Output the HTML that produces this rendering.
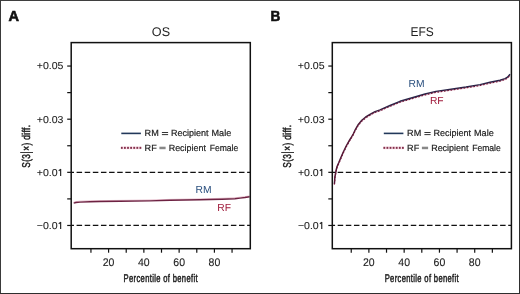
<!DOCTYPE html>
<html><head><meta charset="utf-8"><style>
html,body{margin:0;padding:0;background:#fff;}
body{width:520px;height:294px;overflow:hidden;}
svg{display:block;will-change:transform;text-rendering:geometricPrecision;font-family:"Liberation Sans",sans-serif;}
</style></head><body>
<svg width="520" height="294" viewBox="0 0 520 294">
<rect x="0" y="0" width="520" height="294" fill="#fff"/>
<text x="0" y="0" font-weight="bold" font-size="14.6" fill="#111" stroke="#111" stroke-width="0.6" transform="translate(8.40,20.6) scale(1.0,1)">A</text>
<text x="0" y="0" font-size="12.6" text-anchor="middle" fill="#222" transform="translate(160.95,36.1) scale(1.0,1)">OS</text>
<line x1="71.20" y1="172.33" x2="250.30" y2="172.33" stroke="#111" stroke-width="1.2" stroke-dasharray="5.5 2.62" stroke-dashoffset="2.72"/>
<line x1="71.20" y1="225.47" x2="250.30" y2="225.47" stroke="#111" stroke-width="1.2" stroke-dasharray="5.5 2.62" stroke-dashoffset="2.72"/>
<line x1="67.20" y1="66.05" x2="71.20" y2="66.05" stroke="#111" stroke-width="1.2"/>
<line x1="67.20" y1="92.62" x2="71.20" y2="92.62" stroke="#111" stroke-width="1.2"/>
<line x1="67.20" y1="119.19" x2="71.20" y2="119.19" stroke="#111" stroke-width="1.2"/>
<line x1="67.20" y1="145.76" x2="71.20" y2="145.76" stroke="#111" stroke-width="1.2"/>
<line x1="67.20" y1="172.33" x2="71.20" y2="172.33" stroke="#111" stroke-width="1.2"/>
<line x1="67.20" y1="198.90" x2="71.20" y2="198.90" stroke="#111" stroke-width="1.2"/>
<line x1="67.20" y1="225.47" x2="71.20" y2="225.47" stroke="#111" stroke-width="1.2"/>
<text x="0" y="0" font-size="11.0" text-anchor="end" fill="#222" stroke="#222" stroke-width="0.1" transform="translate(63.50,69.00) scale(0.96,0.92)">+0.05</text>
<text x="0" y="0" font-size="11.0" text-anchor="end" fill="#222" stroke="#222" stroke-width="0.1" transform="translate(63.50,123.00) scale(0.96,0.92)">+0.03</text>
<text x="0" y="0" font-size="11.0" text-anchor="end" fill="#222" stroke="#222" stroke-width="0.1" transform="translate(57.63,176.00) scale(0.96,0.92)">+0.0</text>
<path d="M60.65,169.00 L60.65,176.00 M60.85,169.10 L58.75,170.70" stroke="#222" stroke-width="1.15" fill="none"/>
<text x="0" y="0" font-size="11.0" text-anchor="end" fill="#222" stroke="#222" stroke-width="0.1" transform="translate(57.63,229.00) scale(0.96,0.92)">−0.0</text>
<path d="M60.65,222.00 L60.65,229.00 M60.85,222.10 L58.75,223.70" stroke="#222" stroke-width="1.15" fill="none"/>
<line x1="90.94" y1="248.70" x2="90.94" y2="252.70" stroke="#111" stroke-width="1.2"/>
<line x1="108.58" y1="248.70" x2="108.58" y2="252.70" stroke="#111" stroke-width="1.2"/>
<line x1="126.22" y1="248.70" x2="126.22" y2="252.70" stroke="#111" stroke-width="1.2"/>
<line x1="143.86" y1="248.70" x2="143.86" y2="252.70" stroke="#111" stroke-width="1.2"/>
<line x1="161.50" y1="248.70" x2="161.50" y2="252.70" stroke="#111" stroke-width="1.2"/>
<line x1="179.14" y1="248.70" x2="179.14" y2="252.70" stroke="#111" stroke-width="1.2"/>
<line x1="196.78" y1="248.70" x2="196.78" y2="252.70" stroke="#111" stroke-width="1.2"/>
<line x1="214.42" y1="248.70" x2="214.42" y2="252.70" stroke="#111" stroke-width="1.2"/>
<line x1="232.06" y1="248.70" x2="232.06" y2="252.70" stroke="#111" stroke-width="1.2"/>
<text x="0" y="0" font-size="11.0" text-anchor="middle" fill="#222" stroke="#222" stroke-width="0.1" transform="translate(108.58,265.70) scale(0.955,1)">20</text>
<text x="0" y="0" font-size="11.0" text-anchor="middle" fill="#222" stroke="#222" stroke-width="0.1" transform="translate(143.86,265.70) scale(0.955,1)">40</text>
<text x="0" y="0" font-size="11.0" text-anchor="middle" fill="#222" stroke="#222" stroke-width="0.1" transform="translate(179.14,265.70) scale(0.955,1)">60</text>
<text x="0" y="0" font-size="11.0" text-anchor="middle" fill="#222" stroke="#222" stroke-width="0.1" transform="translate(214.42,265.70) scale(0.955,1)">80</text>
<text x="0" y="0" font-size="11.2" text-anchor="middle" fill="#222" stroke="#222" stroke-width="0.5" letter-spacing="0.5" transform="translate(160.75,282.30) scale(0.68,1)">Percentile of benefit</text>
<text x="0" y="0" font-size="11.3" text-anchor="middle" fill="#222" stroke="#222" stroke-width="0.5" letter-spacing="0.55" transform="translate(29.80,146.20) rotate(-90) scale(0.73,1)">S(3<tspan font-size="13">|</tspan>×) diff.</text>
<line x1="121.30" y1="133.4" x2="140.90" y2="133.4" stroke="#22385a" stroke-width="1.6"/>
<rect x="121.00" y="146.5" width="20.2" height="2.8" fill="#f8e0e8"/>
<rect x="120.90" y="146.85" width="1.8" height="2" fill="#84304c"/>
<rect x="124.00" y="146.85" width="1.8" height="2" fill="#84304c"/>
<rect x="127.10" y="146.85" width="1.8" height="2" fill="#84304c"/>
<rect x="130.20" y="146.85" width="1.8" height="2" fill="#84304c"/>
<rect x="133.30" y="146.85" width="1.8" height="2" fill="#84304c"/>
<rect x="136.40" y="146.85" width="1.8" height="2" fill="#84304c"/>
<rect x="139.50" y="146.85" width="1.8" height="2" fill="#84304c"/>
<text x="144.60" y="136.2" font-size="9.1" fill="#222" stroke="#222" stroke-width="0.2">RM</text>
<rect x="161.90" y="132" width="6.2" height="1" fill="#333"/>
<rect x="161.90" y="134.1" width="6.2" height="1" fill="#333"/>
<text x="170.90" y="136.2" font-size="9.1" fill="#222" stroke="#222" stroke-width="0.2" textLength="37.6" lengthAdjust="spacingAndGlyphs">Recipient</text>
<text x="211.50" y="136.2" font-size="9.1" fill="#222" stroke="#222" stroke-width="0.2">Male</text>
<text x="144.60" y="150.6" font-size="9.1" fill="#222" stroke="#222" stroke-width="0.2">RF</text>
<rect x="159.40" y="146.7" width="6.2" height="2.5" fill="#888"/>
<text x="168.70" y="150.6" font-size="9.1" fill="#222" stroke="#222" stroke-width="0.2" textLength="37.3" lengthAdjust="spacingAndGlyphs">Recipient</text>
<text x="209.70" y="150.6" font-size="9.1" fill="#222" stroke="#222" stroke-width="0.2" textLength="28.6" lengthAdjust="spacingAndGlyphs">Female</text>
<path d="M73.70,202.20 L76.00,201.60 L80.00,201.20 L90.00,200.80 L100.00,200.60 L120.00,200.40 L150.00,200.00 L170.00,199.40 L200.00,198.90 L222.00,198.30 L235.00,197.80 L240.00,197.20 L245.00,196.60 L249.60,195.90" fill="none" stroke="#e2b3c4" stroke-width="0.9" stroke-linejoin="round"/>
<path d="M73.70,203.10 L76.00,202.50 L80.00,202.10 L90.00,201.70 L100.00,201.50 L120.00,201.30 L150.00,200.90 L170.00,200.30 L200.00,199.80 L222.00,199.20 L235.00,198.70 L240.00,198.10 L245.00,197.50 L249.60,196.80" fill="none" stroke="#6d2242" stroke-width="1.45" stroke-linejoin="round"/>
<text x="195.60" y="193.00" font-size="10.3" fill="#2a4f7e">RM</text>
<text x="217.30" y="211.00" font-size="10.3" fill="#a01c3c">RF</text>
<rect x="71.20" y="42.60" width="179.10" height="206.10" fill="none" stroke="#111" stroke-width="1.5"/>
<text x="0" y="0" font-weight="bold" font-size="14.6" fill="#111" stroke="#111" stroke-width="0.6" transform="translate(270.40,20.6) scale(0.93,1)">B</text>
<text x="0" y="0" font-size="12.6" text-anchor="middle" fill="#222" transform="translate(422.15,36.1) scale(0.95,1)">EFS</text>
<line x1="332.30" y1="172.33" x2="511.40" y2="172.33" stroke="#111" stroke-width="1.2" stroke-dasharray="5.5 2.62" stroke-dashoffset="2.72"/>
<line x1="332.30" y1="225.47" x2="511.40" y2="225.47" stroke="#111" stroke-width="1.2" stroke-dasharray="5.5 2.62" stroke-dashoffset="2.72"/>
<line x1="328.30" y1="66.05" x2="332.30" y2="66.05" stroke="#111" stroke-width="1.2"/>
<line x1="328.30" y1="92.62" x2="332.30" y2="92.62" stroke="#111" stroke-width="1.2"/>
<line x1="328.30" y1="119.19" x2="332.30" y2="119.19" stroke="#111" stroke-width="1.2"/>
<line x1="328.30" y1="145.76" x2="332.30" y2="145.76" stroke="#111" stroke-width="1.2"/>
<line x1="328.30" y1="172.33" x2="332.30" y2="172.33" stroke="#111" stroke-width="1.2"/>
<line x1="328.30" y1="198.90" x2="332.30" y2="198.90" stroke="#111" stroke-width="1.2"/>
<line x1="328.30" y1="225.47" x2="332.30" y2="225.47" stroke="#111" stroke-width="1.2"/>
<text x="0" y="0" font-size="11.0" text-anchor="end" fill="#222" stroke="#222" stroke-width="0.1" transform="translate(324.60,69.00) scale(0.96,0.92)">+0.05</text>
<text x="0" y="0" font-size="11.0" text-anchor="end" fill="#222" stroke="#222" stroke-width="0.1" transform="translate(324.60,123.00) scale(0.96,0.92)">+0.03</text>
<text x="0" y="0" font-size="11.0" text-anchor="end" fill="#222" stroke="#222" stroke-width="0.1" transform="translate(318.73,176.00) scale(0.96,0.92)">+0.0</text>
<path d="M321.75,169.00 L321.75,176.00 M321.95,169.10 L319.85,170.70" stroke="#222" stroke-width="1.15" fill="none"/>
<text x="0" y="0" font-size="11.0" text-anchor="end" fill="#222" stroke="#222" stroke-width="0.1" transform="translate(318.73,229.00) scale(0.96,0.92)">−0.0</text>
<path d="M321.75,222.00 L321.75,229.00 M321.95,222.10 L319.85,223.70" stroke="#222" stroke-width="1.15" fill="none"/>
<line x1="351.24" y1="248.70" x2="351.24" y2="252.70" stroke="#111" stroke-width="1.2"/>
<line x1="368.88" y1="248.70" x2="368.88" y2="252.70" stroke="#111" stroke-width="1.2"/>
<line x1="386.52" y1="248.70" x2="386.52" y2="252.70" stroke="#111" stroke-width="1.2"/>
<line x1="404.16" y1="248.70" x2="404.16" y2="252.70" stroke="#111" stroke-width="1.2"/>
<line x1="421.80" y1="248.70" x2="421.80" y2="252.70" stroke="#111" stroke-width="1.2"/>
<line x1="439.44" y1="248.70" x2="439.44" y2="252.70" stroke="#111" stroke-width="1.2"/>
<line x1="457.08" y1="248.70" x2="457.08" y2="252.70" stroke="#111" stroke-width="1.2"/>
<line x1="474.72" y1="248.70" x2="474.72" y2="252.70" stroke="#111" stroke-width="1.2"/>
<line x1="492.36" y1="248.70" x2="492.36" y2="252.70" stroke="#111" stroke-width="1.2"/>
<text x="0" y="0" font-size="11.0" text-anchor="middle" fill="#222" stroke="#222" stroke-width="0.1" transform="translate(368.88,265.70) scale(0.955,1)">20</text>
<text x="0" y="0" font-size="11.0" text-anchor="middle" fill="#222" stroke="#222" stroke-width="0.1" transform="translate(404.16,265.70) scale(0.955,1)">40</text>
<text x="0" y="0" font-size="11.0" text-anchor="middle" fill="#222" stroke="#222" stroke-width="0.1" transform="translate(439.44,265.70) scale(0.955,1)">60</text>
<text x="0" y="0" font-size="11.0" text-anchor="middle" fill="#222" stroke="#222" stroke-width="0.1" transform="translate(474.72,265.70) scale(0.955,1)">80</text>
<text x="0" y="0" font-size="11.2" text-anchor="middle" fill="#222" stroke="#222" stroke-width="0.5" letter-spacing="0.5" transform="translate(421.85,282.30) scale(0.68,1)">Percentile of benefit</text>
<text x="0" y="0" font-size="11.3" text-anchor="middle" fill="#222" stroke="#222" stroke-width="0.5" letter-spacing="0.55" transform="translate(290.90,146.20) rotate(-90) scale(0.73,1)">S(3<tspan font-size="13">|</tspan>×) diff.</text>
<line x1="383.80" y1="133.4" x2="403.40" y2="133.4" stroke="#22385a" stroke-width="1.6"/>
<rect x="383.50" y="146.5" width="20.2" height="2.8" fill="#f8e0e8"/>
<rect x="383.40" y="146.85" width="1.8" height="2" fill="#84304c"/>
<rect x="386.50" y="146.85" width="1.8" height="2" fill="#84304c"/>
<rect x="389.60" y="146.85" width="1.8" height="2" fill="#84304c"/>
<rect x="392.70" y="146.85" width="1.8" height="2" fill="#84304c"/>
<rect x="395.80" y="146.85" width="1.8" height="2" fill="#84304c"/>
<rect x="398.90" y="146.85" width="1.8" height="2" fill="#84304c"/>
<rect x="402.00" y="146.85" width="1.8" height="2" fill="#84304c"/>
<text x="407.10" y="136.2" font-size="9.1" fill="#222" stroke="#222" stroke-width="0.2">RM</text>
<rect x="424.40" y="132" width="6.2" height="1" fill="#333"/>
<rect x="424.40" y="134.1" width="6.2" height="1" fill="#333"/>
<text x="433.40" y="136.2" font-size="9.1" fill="#222" stroke="#222" stroke-width="0.2" textLength="37.6" lengthAdjust="spacingAndGlyphs">Recipient</text>
<text x="474.00" y="136.2" font-size="9.1" fill="#222" stroke="#222" stroke-width="0.2">Male</text>
<text x="407.10" y="150.6" font-size="9.1" fill="#222" stroke="#222" stroke-width="0.2">RF</text>
<rect x="421.90" y="146.7" width="6.2" height="2.5" fill="#888"/>
<text x="431.20" y="150.6" font-size="9.1" fill="#222" stroke="#222" stroke-width="0.2" textLength="37.3" lengthAdjust="spacingAndGlyphs">Recipient</text>
<text x="472.20" y="150.6" font-size="9.1" fill="#222" stroke="#222" stroke-width="0.2" textLength="28.6" lengthAdjust="spacingAndGlyphs">Female</text>
<path d="M334.40,184.70 L334.90,178.00 L335.80,173.00 L336.30,170.50 L336.90,168.00 L337.80,165.80 L338.70,163.80 L341.00,158.30 L343.30,153.00 L346.20,147.00 L349.50,141.20 L350.90,139.00 L353.50,134.50 L355.20,130.80 L358.30,125.40 L361.80,121.30 L365.40,118.20 L369.50,115.60 L375.00,112.60 L380.00,110.90 L385.00,108.60 L390.00,106.50 L400.00,102.30 L413.00,98.50 L425.00,95.00 L436.00,92.40 L451.00,90.20 L466.00,88.00 L480.00,85.60 L490.00,83.30 L500.00,81.20 L505.00,79.60 L507.50,78.20 L509.00,76.60 L509.90,75.10" fill="none" stroke="#f3d0dc" stroke-width="1.3"/>
<linearGradient id="gB" gradientUnits="userSpaceOnUse" x1="352" y1="0" x2="392" y2="0"><stop offset="0" stop-color="#4a1a36"/><stop offset="1" stop-color="#28264a"/></linearGradient>
<path d="M334.40,183.70 L334.90,177.00 L335.80,172.00 L336.30,169.50 L336.90,167.00 L337.80,164.80 L338.70,162.80 L341.00,157.30 L343.30,152.00 L346.20,146.00 L349.50,140.20 L350.90,138.00 L353.50,133.50 L355.20,129.80 L358.30,124.40 L361.80,120.30 L365.40,117.20 L369.50,114.60 L375.00,111.60 L380.00,109.90 L385.00,107.60 L390.00,105.50 L400.00,101.30 L413.00,97.50 L425.00,94.00 L436.00,91.40 L451.00,89.20 L466.00,87.00 L480.00,84.60 L490.00,82.30 L500.00,80.20 L505.00,78.60 L507.50,77.20 L509.00,75.60 L509.90,74.10" fill="none" stroke="url(#gB)" stroke-width="1.45" stroke-linejoin="round"/>
<path d="M334.40,184.55 L334.90,177.85 L335.80,172.85 L336.30,170.35 L336.90,167.85 L337.80,165.65 L338.70,163.65 L341.00,158.15 L343.30,152.85 L346.20,146.85 L349.50,141.05 L350.90,138.85 L353.50,134.35 L355.20,130.65 L358.30,125.25 L361.80,121.15 L365.40,118.05 L369.50,115.45 L375.00,112.45 L380.00,110.75 L385.00,108.45 L390.00,106.35 L400.00,102.15 L413.00,98.35 L425.00,94.85 L436.00,92.25 L451.00,90.05 L466.00,87.85 L480.00,85.45 L490.00,83.15 L500.00,81.05 L505.00,79.45 L507.50,78.05 L509.00,76.45 L509.90,74.95" fill="none" stroke="#6e1838" stroke-width="1.2" stroke-dasharray="1.6 1.7"/>
<text x="408.60" y="87.00" font-size="10.3" fill="#2a4f7e">RM</text>
<text x="429.90" y="104.20" font-size="10.3" fill="#a01c3c">RF</text>
<rect x="332.30" y="42.60" width="179.10" height="206.10" fill="none" stroke="#111" stroke-width="1.5"/>
<rect x="0" y="0" width="520" height="1" fill="#3f3f3f"/>
<rect x="0" y="0" width="1" height="294" fill="#3a3a3a"/>
<rect x="519" y="0" width="1" height="294" fill="#2e2e2e"/>
<rect x="0" y="293" width="520" height="1" fill="#2e2e2e"/>
</svg>
</body></html>
